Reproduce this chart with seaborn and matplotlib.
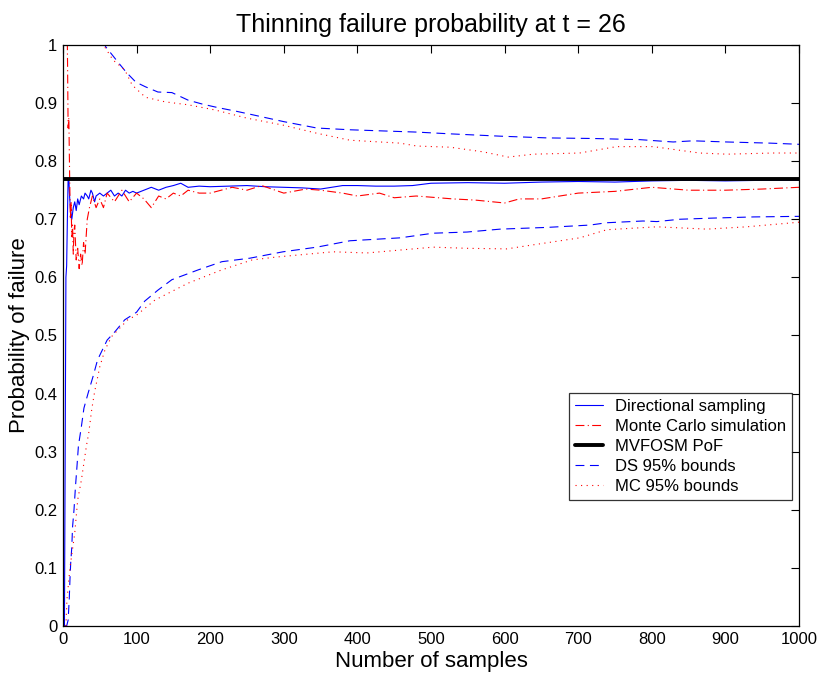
import matplotlib
matplotlib.use("Agg")
import matplotlib.pyplot as plt
import seaborn as sns
import numpy as np

# ---- data ----
ds_n = [1, 2, 3, 4, 5, 6, 7, 8, 9, 10, 12, 14, 16, 18, 20, 22, 25, 28, 30, 33, 35, 38, 40, 43, 45,
        50, 55, 60, 65, 70, 75, 80, 85, 90, 95, 100, 110, 120, 130, 140, 150, 160, 170, 185, 200,
        225, 250, 275, 300, 325, 350, 380, 400, 425, 450, 475, 500, 550, 600, 650, 700, 750, 800,
        850, 900, 950, 1000]
ds_p = [0.0, 0.0, 0.30, 0.60, 0.62, 0.70, 0.77, 0.77, 0.74, 0.72, 0.70, 0.72, 0.73, 0.715, 0.735,
        0.725, 0.74, 0.735, 0.745, 0.74, 0.735, 0.75, 0.745, 0.73, 0.74, 0.745, 0.74, 0.745, 0.75,
        0.74, 0.745, 0.74, 0.75, 0.745, 0.748, 0.745, 0.75, 0.755, 0.75, 0.755, 0.758, 0.762, 0.755,
        0.757, 0.756, 0.757, 0.758, 0.756, 0.755, 0.754, 0.752, 0.758, 0.758, 0.757, 0.757, 0.758,
        0.762, 0.763, 0.762, 0.764, 0.765, 0.764, 0.766, 0.767, 0.766, 0.767, 0.767]

mc_n = [1, 5, 6, 7, 8, 9, 10, 11, 12, 13, 14, 15, 16, 18, 20, 22, 24, 26, 28, 30, 33, 36, 40, 45,
        50, 55, 60, 70, 80, 90, 100, 110, 120, 130, 140, 150, 160, 170, 185, 200, 230, 250, 270,
        300, 330, 350, 380, 400, 430, 450, 480, 500, 530, 560, 600, 620, 650, 700, 750, 800, 850,
        900, 950, 1000]
mc_p = [1.0, 1.0, 1.0, 0.857, 0.875, 0.78, 0.70, 0.73, 0.67, 0.69, 0.64, 0.68, 0.69, 0.63, 0.65,
        0.615, 0.64, 0.62, 0.66, 0.64, 0.70, 0.72, 0.74, 0.72, 0.735, 0.72, 0.745, 0.73, 0.75, 0.73,
        0.745, 0.735, 0.72, 0.74, 0.735, 0.745, 0.74, 0.75, 0.745, 0.745, 0.755, 0.75, 0.758, 0.745,
        0.752, 0.75, 0.745, 0.74, 0.745, 0.737, 0.74, 0.738, 0.735, 0.733, 0.728, 0.735, 0.735,
        0.745, 0.748, 0.755, 0.75, 0.75, 0.752, 0.755]

mvfosm_n = [0, 1000]
mvfosm_p = [0.77, 0.77]

dsu_n = [10, 20, 30, 40, 50, 58, 75, 86, 99, 112, 129, 148, 170, 190, 211, 235, 257, 300, 345,
         390, 435, 481, 526, 594, 658, 720, 784, 829, 856, 902, 961, 1000]
dsu_p = [1.5, 1.25, 1.12, 1.06, 1.02, 0.997, 0.97, 0.953, 0.936, 0.928, 0.919, 0.918, 0.905,
         0.898, 0.892, 0.886, 0.880, 0.868, 0.857, 0.854, 0.852, 0.850, 0.847, 0.843, 0.840, 0.839,
         0.837, 0.833, 0.835, 0.833, 0.831, 0.829]

dsl_n = [2, 5, 7, 8.5, 9.5, 10.5, 12, 13, 15, 17, 19, 21, 25, 28.5, 34, 41, 47, 60, 71, 84, 100,
         111, 129, 148, 184, 216, 254, 299, 345, 390, 458, 503, 549, 594, 658, 716, 739, 788, 807,
         838, 883, 938, 1000]
dsl_p = [0.0, 0.0, 0.01, 0.045, 0.08, 0.108, 0.136, 0.17, 0.20, 0.24, 0.274, 0.31, 0.343, 0.375,
         0.40, 0.43, 0.458, 0.492, 0.507, 0.527, 0.54, 0.559, 0.578, 0.596, 0.613, 0.627, 0.633,
         0.644, 0.652, 0.663, 0.668, 0.676, 0.678, 0.683, 0.686, 0.690, 0.694, 0.697, 0.696, 0.700,
         0.702, 0.704, 0.705]

mcu_n = [6, 8, 20, 40, 55, 60, 68, 84, 94, 112, 139, 170, 207, 250, 299, 345, 390, 458, 481,
         526, 571, 605, 639, 702, 752, 802, 865, 902, 965, 1000]
mcu_p = [1.0, 1.0, 1.0, 1.0, 1.0, 0.99, 0.974, 0.957, 0.931, 0.91, 0.902, 0.897, 0.888, 0.874,
         0.862, 0.848, 0.836, 0.831, 0.826, 0.824, 0.816, 0.807, 0.812, 0.814, 0.825, 0.825,
         0.814, 0.812, 0.814, 0.814]

mcl_n = [4, 5.4, 9.5, 16, 20, 25, 32, 35, 39, 43, 50, 57, 66, 88, 100, 125, 170, 216, 257, 290,
         367, 413, 458, 503, 549, 603, 639, 702, 739, 807, 875, 929, 992, 1000]
mcl_p = [0.0, 0.045, 0.10, 0.16, 0.217, 0.251, 0.311, 0.332, 0.372, 0.403, 0.446, 0.475, 0.498,
         0.527, 0.535, 0.561, 0.59, 0.613, 0.63, 0.635, 0.644, 0.642, 0.647, 0.652, 0.65, 0.649,
         0.656, 0.668, 0.682, 0.687, 0.683, 0.687, 0.694, 0.695]

x_ticks = list(range(0, 1001, 100))
y_ticks = [0, 0.1, 0.2, 0.3, 0.4, 0.5, 0.6, 0.7, 0.8, 0.9, 1]
y_tick_labels = ["0", "0.1", "0.2", "0.3", "0.4", "0.5", "0.6", "0.7", "0.8", "0.9", "1"]

# ---- style ----
sns.set_style("white")
plt.rcParams['font.family'] = ['Liberation Sans', 'DejaVu Sans']
plt.rcParams['text.color'] = 'black'
plt.rcParams['axes.labelcolor'] = 'black'

fig = plt.figure(figsize=(8.22, 6.81), dpi=100)
ax = fig.add_axes([0.0766, 0.0808, 0.8954, 0.8532])

sns.lineplot(x=ds_n, y=ds_p, ax=ax, color='blue', linewidth=0.8, linestyle='-',
             label='Directional sampling', estimator=None, sort=False)
sns.lineplot(x=mc_n, y=mc_p, ax=ax, color='red', linewidth=0.8, linestyle=(0, (8, 3, 1, 3)),
             label='Monte Carlo simulation', estimator=None, sort=False)
sns.lineplot(x=mvfosm_n, y=mvfosm_p, ax=ax, color='black', linewidth=2.8, linestyle='-',
             label='MVFOSM PoF', estimator=None, sort=False)
sns.lineplot(x=dsu_n, y=dsu_p, ax=ax, color='blue', linewidth=0.8, linestyle=(0, (8, 5)),
             label='DS 95% bounds', estimator=None, sort=False)
sns.lineplot(x=dsl_n, y=dsl_p, ax=ax, color='blue', linewidth=0.8, linestyle=(0, (8, 5)),
             estimator=None, sort=False)
sns.lineplot(x=mcu_n, y=mcu_p, ax=ax, color='red', linewidth=0.8, linestyle=(0, (1, 4)),
             label='MC 95% bounds', estimator=None, sort=False)
sns.lineplot(x=mcl_n, y=mcl_p, ax=ax, color='red', linewidth=0.8, linestyle=(0, (1, 4)),
             estimator=None, sort=False)

ax.set_xlim(0, 1000)
ax.set_ylim(0, 1)
ax.set_xticks(x_ticks)
ax.set_xticklabels([str(t) for t in x_ticks])
ax.set_yticks(y_ticks)
ax.set_yticklabels(y_tick_labels)
ax.tick_params(direction='in', length=6, width=0.8, top=True, right=True,
               labelsize=12, colors='black', pad=4)
for s in ax.spines.values():
    s.set_visible(True)
    s.set_color('black')
    s.set_linewidth(0.9)

ax.set_title('Thinning failure probability at t = 26', fontsize=18, pad=9, color='black')
ax.set_xlabel('Number of samples', fontsize=16, labelpad=3)
ax.set_ylabel('Probability of failure', fontsize=16, labelpad=3)

leg = ax.legend(loc='lower right', bbox_to_anchor=(0.9905, 0.217), fontsize=12,
                frameon=True, fancybox=False, edgecolor='black', handlelength=1.7,
                borderpad=0.35, labelspacing=0.3, handletextpad=0.7, borderaxespad=0)
leg.get_frame().set_linewidth(0.9)
for t in leg.get_texts():
    t.set_color('black')

fig.savefig('out.png', dpi=100)
